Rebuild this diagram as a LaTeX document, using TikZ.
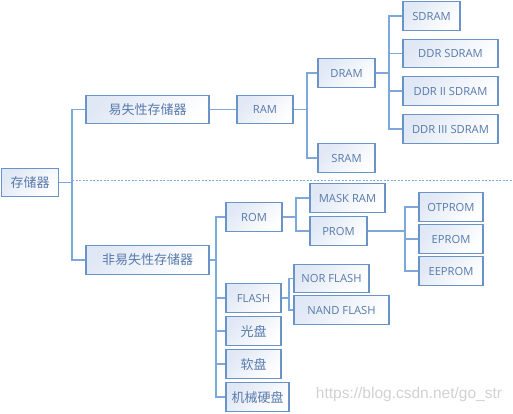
\documentclass[tikz,border=0pt]{standalone}
\usepackage{fontspec}
\setmainfont{Open Sans}
\newfontfamily\cjk{Noto Sans CJK SC}
\newfontfamily\wmfont{Liberation Sans}
\definecolor{boxborder}{RGB}{106,148,200}
\definecolor{boxtop}{RGB}{224,232,245}
\definecolor{txt}{RGB}{88,122,172}
\definecolor{linecol}{RGB}{126,168,218}
\tikzset{
  box/.style={draw=boxborder, line width=1.3pt, top color=boxtop, bottom color=white,
    shading angle=45, text=txt, minimum height=28.5pt, inner sep=0pt,
    font=\fontsize{11.2}{13}\selectfont},
  cn/.style={box, font=\cjk\fontsize{13}{15}\selectfont},
  link/.style={draw=linecol, line width=1.2pt},
  sep/.style={draw=linecol, line width=1.2pt, dash pattern=on 2pt off 1.5pt},
}
\begin{document}
\begin{tikzpicture}[x=1pt,y=-1pt]
\useasboundingbox (0,0) rectangle (513,413);
% nodes
\node[cn, minimum width=56.6pt] (root) at (30,182.5) {存储器};
\node[cn, minimum width=123pt] (vol) at (147.5,109.5) {易失性存储器};
\node[cn, minimum width=123pt] (nonvol) at (147.5,260) {非易失性存储器};
\node[box, minimum width=56pt] (ram) at (265,109.5) {RAM};
\node[box, minimum width=57pt] (dram) at (346.5,73) {DRAM};
\node[box, minimum width=57pt] (sram) at (346.5,158) {SRAM};
\node[box, minimum width=57pt] (sdram) at (431.5,16) {SDRAM};
\node[box, minimum width=95pt] (ddr) at (450.5,53.5) {DDR SDRAM};
\node[box, minimum width=95pt] (ddr2) at (450.5,91) {DDR II SDRAM};
\node[box, minimum width=95pt] (ddr3) at (450.5,129) {DDR III SDRAM};
\node[box, minimum width=56pt] (rom) at (254,217) {ROM};
\node[box, minimum width=75pt] (mask) at (347.5,198) {MASK RAM};
\node[box, minimum width=57pt] (prom) at (338.5,231) {PROM};
\node[box, minimum width=64pt] (otprom) at (451,207) {OTPROM};
\node[box, minimum width=64pt] (eprom) at (451,239) {EPROM};
\node[box, minimum width=64pt] (eeprom) at (451,271) {EEPROM};
\node[box, minimum width=55pt] (flash) at (253.5,298) {FLASH};
\node[box, minimum width=75pt] (nor) at (331.5,278.5) {NOR FLASH};
\node[box, minimum width=95pt] (nand) at (341.5,310) {NAND FLASH};
\node[cn, minimum width=55pt] (cd) at (253.5,331) {光盘};
\node[cn, minimum width=55pt] (fd) at (253.5,364) {软盘};
\node[cn, minimum width=63pt] (hd) at (257.5,397) {机械硬盘};
% bus coordinates
\coordinate (b0) at (72,182.5);
\coordinate (b1) at (307,109.5);
\coordinate (b2) at (389,73);
\coordinate (b3) at (216,260);
\coordinate (b4) at (296,217);
\coordinate (b5) at (405,231);
\coordinate (b6) at (289,298);
\coordinate (s0) at (72,180.5);
\coordinate (s1) at (512,180.5);
% connectors
\draw[link] (root.east) -- (b0);
\draw[link] (b0) |- (vol.west);
\draw[link] (b0) |- (nonvol.west);
\draw[link] (vol.east) -- (ram.west);
\draw[link] (ram.east) -- (b1);
\draw[link] (b1) |- (dram.west);
\draw[link] (b1) |- (sram.west);
\draw[link] (dram.east) -- (b2);
\draw[link] (b2) |- (sdram.west);
\draw[link] (b2) |- (ddr.west);
\draw[link] (b2) |- (ddr2.west);
\draw[link] (b2) |- (ddr3.west);
\draw[link] (nonvol.east) -- (b3);
\draw[link] (b3) |- (rom.west);
\draw[link] (b3) |- (flash.west);
\draw[link] (b3) |- (cd.west);
\draw[link] (b3) |- (fd.west);
\draw[link] (b3) |- (hd.west);
\draw[link] (rom.east) -- (b4);
\draw[link] (b4) |- (mask.west);
\draw[link] (b4) |- (prom.west);
\draw[link] (prom.east) -- (b5);
\draw[link] (b5) |- (otprom.west);
\draw[link] (b5) |- (eprom.west);
\draw[link] (b5) |- (eeprom.west);
\draw[link] (flash.east) -- (b6);
\draw[link] (b6) |- (nor.west);
\draw[link] (b6) |- (nand.west);
\draw[sep] (s0) -- (s1);
% watermark
\node[text=black!18, font=\wmfont\fontsize{15.5}{17}\selectfont] (wm) at (409,394) {https://blog.csdn.net/go\_str};
\end{tikzpicture}
\end{document}
